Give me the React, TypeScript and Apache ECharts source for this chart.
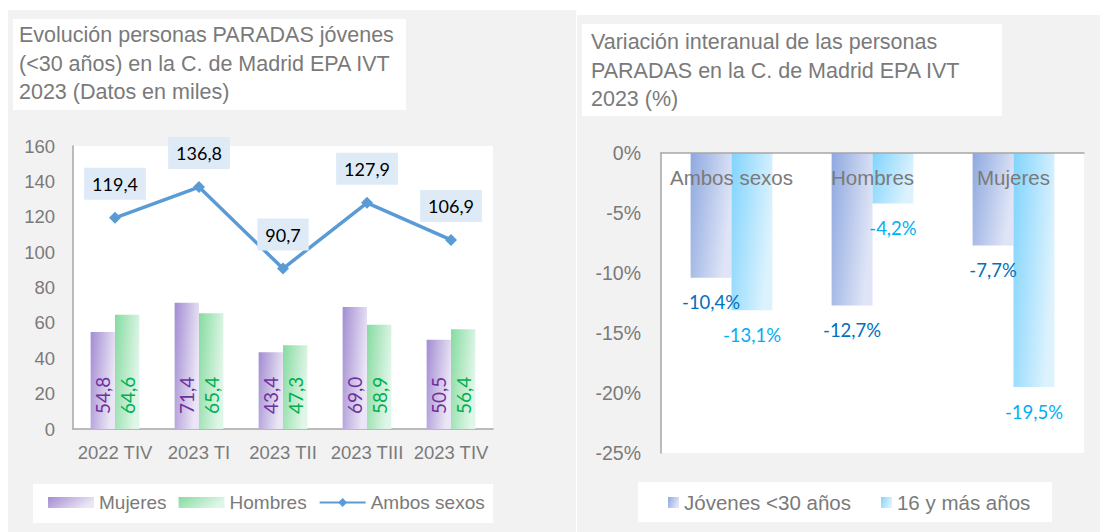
import React, { useEffect, useRef } from "react";
import * as echarts from "echarts";

const quarters = ["2022 TIV", "2023 TI", "2023 TII", "2023 TIII", "2023 TIV"];
const mujeres = [54.8, 71.4, 43.4, 69.0, 50.5];
const hombres = [64.6, 65.4, 47.3, 58.9, 56.4];
const ambos = [119.4, 136.8, 90.7, 127.9, 106.9];

const groups = ["Ambos sexos", "Hombres", "Mujeres"];
const jovenes = [-10.4, -12.7, -7.7];
const mayores16 = [-13.1, -4.2, -19.5];

const titleLeft = "Evolución personas PARADAS jóvenes\n(<30 años) en la C. de Madrid EPA IVT\n2023 (Datos en miles)";
const titleRight = "Variación interanual de las personas\nPARADAS en la C. de Madrid EPA IVT\n2023 (%)";

const SANS = "'Liberation Sans', Arial, sans-serif";
const NUM = "Lato, 'Liberation Sans', sans-serif";
const GRAY = "#7a7a7a";
const AXIS = "#a6a6a6";

const fmt = (v: number) => v.toFixed(1).replace(".", ",");

const grad = (a: string, b: string) =>
  new echarts.graphic.LinearGradient(0, 0, 1, 0.35, [
    { offset: 0, color: a },
    { offset: 1, color: b },
  ]);

export default function App() {
  const ref = useRef<HTMLDivElement>(null);
  useEffect(() => {
    if (!ref.current) return;
    const chart = echarts.init(ref.current, null, { renderer: "svg" });
    chart.setOption({
      animation: false,
      backgroundColor: "#ffffff",
      graphic: [
        { type: "rect", z: -10, shape: { x: 8, y: 10, width: 568, height: 522 }, style: { fill: "#f2f2f2" } },
        { type: "rect", z: -10, shape: { x: 577, y: 15, width: 523, height: 517 }, style: { fill: "#f2f2f2" } },
        { type: "rect", z: -9, shape: { x: 13, y: 19, width: 393, height: 91 }, style: { fill: "#ffffff" } },
        { type: "rect", z: -9, shape: { x: 582, y: 24, width: 420, height: 92 }, style: { fill: "#ffffff" } },
        { type: "rect", z: -9, shape: { x: 33, y: 484, width: 460, height: 39 }, style: { fill: "#ffffff" } },
        { type: "rect", z: -9, shape: { x: 638, y: 482, width: 414, height: 40 }, style: { fill: "#ffffff" } },
        {
          type: "text",
          x: 19,
          y: 21,
          style: { text: titleLeft, font: `21.5px ${SANS}`, fill: GRAY, lineHeight: 28.5 },
        },
        {
          type: "text",
          x: 591,
          y: 28,
          style: { text: titleRight, font: `21.5px ${SANS}`, fill: GRAY, lineHeight: 28.5 },
        },
      ],
      legend: [
        {
          left: 48,
          top: 493,
          padding: 0,
          itemWidth: 46,
          itemHeight: 11,
          itemGap: 12,
          textStyle: { fontSize: 19, color: GRAY, fontFamily: SANS },
          data: [
            { name: "Mujeres", icon: "rect" },
            { name: "Hombres", icon: "rect" },
            { name: "Ambos sexos" },
          ],
        },
        {
          left: 668,
          top: 492,
          padding: 0,
          itemWidth: 11,
          itemHeight: 11,
          itemGap: 30,
          textStyle: { fontSize: 20.5, color: GRAY, fontFamily: SANS },
          data: [
            { name: "Jóvenes <30 años", icon: "rect" },
            { name: "16 y más años", icon: "rect" },
          ],
        },
      ],
      grid: [
        { left: 73, top: 146, width: 420, height: 283, show: true, backgroundColor: "#ffffff", borderWidth: 0 },
        { left: 661, top: 153, width: 423, height: 300, show: true, backgroundColor: "#ffffff", borderWidth: 0 },
      ],
      xAxis: [
        {
          type: "category",
          gridIndex: 0,
          data: quarters,
          axisLine: { lineStyle: { color: AXIS, width: 1.5 } },
          axisTick: { show: false },
          axisLabel: { interval: 0, fontSize: 18.5, color: GRAY, fontFamily: SANS, margin: 14 },
        },
        {
          type: "category",
          gridIndex: 1,
          data: groups,
          position: "top",
          z: 10,
          axisLine: { lineStyle: { color: AXIS, width: 1.5 } },
          axisTick: { show: false },
          axisLabel: { interval: 0, inside: true, fontSize: 20.5, color: GRAY, fontFamily: SANS, margin: 14 },
        },
      ],
      yAxis: [
        {
          type: "value",
          gridIndex: 0,
          min: 0,
          max: 160,
          interval: 20,
          axisLine: { show: true, lineStyle: { color: AXIS, width: 1.5 } },
          axisTick: { show: false },
          splitLine: { show: false },
          axisLabel: { fontSize: 18.5, color: GRAY, fontFamily: SANS, margin: 18 },
        },
        {
          type: "value",
          gridIndex: 1,
          min: -25,
          max: 0,
          interval: 5,
          axisLine: { show: true, lineStyle: { color: AXIS, width: 1.5 } },
          axisTick: { show: false },
          splitLine: { show: false },
          axisLabel: {
            fontSize: 19.5,
            color: GRAY,
            fontFamily: SANS,
            margin: 20,
            formatter: (v: number) => `${v}%`,
          },
        },
      ],
      series: [
        {
          name: "Mujeres",
          type: "bar",
          xAxisIndex: 0,
          yAxisIndex: 0,
          data: mujeres,
          barGap: "0%",
          barCategoryGap: "42%",
          itemStyle: { color: grad("#a28cd2", "#ebe6f5") },
          label: {
            show: true,
            position: "insideBottom",
            rotate: 90,
            align: "left",
            verticalAlign: "middle",
            distance: 15,
            fontSize: 19,
            fontFamily: NUM,
            color: "#7030a0",
            formatter: (p: any) => fmt(p.value),
          },
        },
        {
          name: "Hombres",
          type: "bar",
          xAxisIndex: 0,
          yAxisIndex: 0,
          data: hombres,
          barGap: "0%",
          barCategoryGap: "42%",
          itemStyle: { color: grad("#86dba0", "#e0f6e8") },
          label: {
            show: true,
            position: "insideBottom",
            rotate: 90,
            align: "left",
            verticalAlign: "middle",
            distance: 15,
            fontSize: 19,
            fontFamily: NUM,
            color: "#00b050",
            formatter: (p: any) => fmt(p.value),
          },
        },
        {
          name: "Ambos sexos",
          type: "line",
          xAxisIndex: 0,
          yAxisIndex: 0,
          data: ambos,
          z: 5,
          symbol: "diamond",
          symbolSize: 12,
          color: "#5b9bd5",
          lineStyle: { color: "#5b9bd5", width: 3.5 },
          itemStyle: { color: "#5b9bd5" },
          label: {
            show: true,
            position: "top",
            distance: 12,
            fontSize: 18,
            fontFamily: NUM,
            color: "#000000",
            backgroundColor: "#deebf7",
            padding: [7, 8],
            formatter: (p: any) => fmt(p.value),
          },
        },
        {
          name: "Jóvenes <30 años",
          type: "bar",
          xAxisIndex: 1,
          yAxisIndex: 1,
          data: jovenes,
          barGap: "0%",
          barCategoryGap: "42%",
          itemStyle: { color: grad("#8ea9e0", "#dfe4f6") },
          label: {
            show: true,
            position: "bottom",
            distance: 15,
            fontSize: 18.5,
            fontFamily: NUM,
            color: "#0070c0",
            formatter: (p: any) => `${fmt(p.value)}%`,
          },
        },
        {
          name: "16 y más años",
          type: "bar",
          xAxisIndex: 1,
          yAxisIndex: 1,
          data: mayores16,
          barGap: "0%",
          barCategoryGap: "42%",
          itemStyle: { color: grad("#80d4fd", "#dcf2fd") },
          label: {
            show: true,
            position: "bottom",
            distance: 15,
            fontSize: 18.5,
            fontFamily: NUM,
            color: "#00b0f0",
            formatter: (p: any) => `${fmt(p.value)}%`,
          },
        },
      ],
    });
    return () => chart.dispose();
  }, []);
  return (
    <div
      ref={ref}
      style={{ position: "absolute", left: 0, top: 0, width: 1100, height: 532 }}
    />
  );
}
